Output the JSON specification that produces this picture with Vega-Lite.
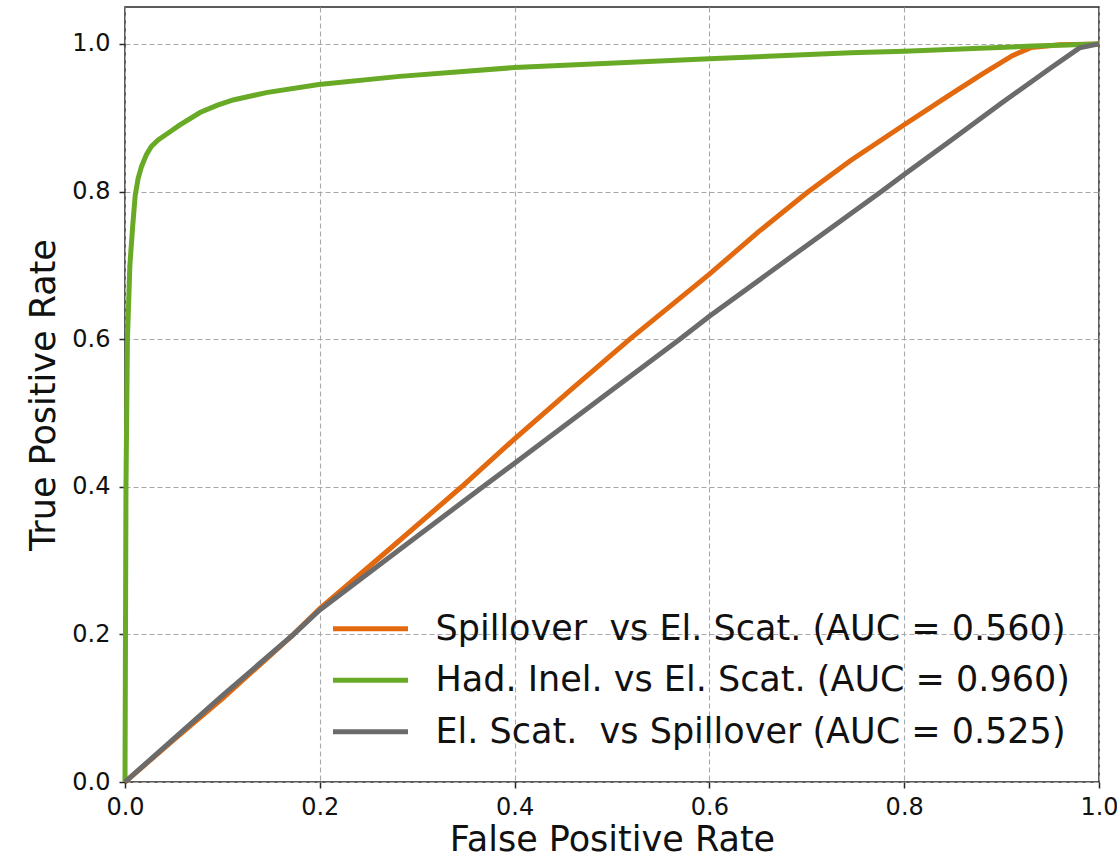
{
  "$schema": "https://vega.github.io/schema/vega-lite/v6.json",
  "width": 974,
  "height": 775,
  "autosize": {"type": "none"},
  "padding": {"left": 125, "top": 7, "right": 18, "bottom": 76},
  "config": {
    "font": "DejaVu Sans",
    "view": {"stroke": "#262626", "strokeWidth": 1.5},
    "axis": {
      "domain": false,
      "grid": true,
      "gridColor": "#a8a8a8",
      "gridDash": [5, 3],
      "gridWidth": 1.1,
      "ticks": true,
      "tickColor": "#262626",
      "tickSize": 6,
      "tickWidth": 1.5,
      "labelFont": "DejaVu Sans",
      "labelFontSize": 24,
      "labelColor": "#111111",
      "labelFlush": false,
      "labelOverlap": false,
      "titleFont": "DejaVu Sans",
      "titleFontSize": 35,
      "titleFontWeight": "normal",
      "titleColor": "#111111"
    }
  },
  "data": {
    "values": [
      {"k": "o", "fpr": 0, "tpr": 0},
      {"k": "o", "fpr": 0.05, "tpr": 0.057},
      {"k": "o", "fpr": 0.1, "tpr": 0.113},
      {"k": "o", "fpr": 0.173, "tpr": 0.2},
      {"k": "o", "fpr": 0.2, "tpr": 0.235},
      {"k": "o", "fpr": 0.272, "tpr": 0.316},
      {"k": "o", "fpr": 0.3456, "tpr": 0.4},
      {"k": "o", "fpr": 0.4, "tpr": 0.465},
      {"k": "o", "fpr": 0.46, "tpr": 0.534},
      {"k": "o", "fpr": 0.5183, "tpr": 0.6},
      {"k": "o", "fpr": 0.6, "tpr": 0.688},
      {"k": "o", "fpr": 0.65, "tpr": 0.745},
      {"k": "o", "fpr": 0.6997, "tpr": 0.798},
      {"k": "o", "fpr": 0.745, "tpr": 0.842},
      {"k": "o", "fpr": 0.8, "tpr": 0.8905},
      {"k": "o", "fpr": 0.8468, "tpr": 0.931},
      {"k": "o", "fpr": 0.88, "tpr": 0.959},
      {"k": "o", "fpr": 0.911, "tpr": 0.984},
      {"k": "o", "fpr": 0.93, "tpr": 0.995},
      {"k": "o", "fpr": 0.96, "tpr": 0.999},
      {"k": "o", "fpr": 1, "tpr": 1},
      {"k": "g", "fpr": 0, "tpr": 0},
      {"k": "g", "fpr": 0.0005, "tpr": 0.2},
      {"k": "g", "fpr": 0.001, "tpr": 0.4},
      {"k": "g", "fpr": 0.0025, "tpr": 0.6},
      {"k": "g", "fpr": 0.005, "tpr": 0.7},
      {"k": "g", "fpr": 0.008, "tpr": 0.755},
      {"k": "g", "fpr": 0.0105, "tpr": 0.795},
      {"k": "g", "fpr": 0.0135, "tpr": 0.818},
      {"k": "g", "fpr": 0.017, "tpr": 0.834},
      {"k": "g", "fpr": 0.022, "tpr": 0.85},
      {"k": "g", "fpr": 0.027, "tpr": 0.861},
      {"k": "g", "fpr": 0.034, "tpr": 0.870},
      {"k": "g", "fpr": 0.044, "tpr": 0.879},
      {"k": "g", "fpr": 0.056, "tpr": 0.89},
      {"k": "g", "fpr": 0.077, "tpr": 0.907},
      {"k": "g", "fpr": 0.095, "tpr": 0.917},
      {"k": "g", "fpr": 0.111, "tpr": 0.924},
      {"k": "g", "fpr": 0.145, "tpr": 0.934},
      {"k": "g", "fpr": 0.199, "tpr": 0.945},
      {"k": "g", "fpr": 0.282, "tpr": 0.956},
      {"k": "g", "fpr": 0.4, "tpr": 0.968},
      {"k": "g", "fpr": 0.6, "tpr": 0.98},
      {"k": "g", "fpr": 0.745, "tpr": 0.988},
      {"k": "g", "fpr": 0.8, "tpr": 0.99},
      {"k": "g", "fpr": 0.932, "tpr": 0.997},
      {"k": "g", "fpr": 1, "tpr": 1},
      {"k": "k", "fpr": 0, "tpr": 0},
      {"k": "k", "fpr": 0.1, "tpr": 0.117},
      {"k": "k", "fpr": 0.173, "tpr": 0.2},
      {"k": "k", "fpr": 0.2, "tpr": 0.233},
      {"k": "k", "fpr": 0.282, "tpr": 0.315},
      {"k": "k", "fpr": 0.3644, "tpr": 0.397},
      {"k": "k", "fpr": 0.4, "tpr": 0.432},
      {"k": "k", "fpr": 0.5, "tpr": 0.531},
      {"k": "k", "fpr": 0.5696, "tpr": 0.6},
      {"k": "k", "fpr": 0.6, "tpr": 0.631},
      {"k": "k", "fpr": 0.7, "tpr": 0.727},
      {"k": "k", "fpr": 0.7766, "tpr": 0.8},
      {"k": "k", "fpr": 0.8, "tpr": 0.823},
      {"k": "k", "fpr": 0.8468, "tpr": 0.868},
      {"k": "k", "fpr": 0.9, "tpr": 0.92},
      {"k": "k", "fpr": 0.95, "tpr": 0.967},
      {"k": "k", "fpr": 0.98, "tpr": 0.9946},
      {"k": "k", "fpr": 1, "tpr": 1}
    ]
  },
  "transform": [
    {"lookup": "k", "from": {"data": {"values": [
      {"k": "o", "s": "Spillover\u00a0 vs El. Scat. (AUC = 0.560)"},
      {"k": "g", "s": "Had. Inel. vs El. Scat. (AUC = 0.960)"},
      {"k": "k", "s": "El. Scat.\u00a0 vs Spillover (AUC = 0.525)"}
    ]}, "key": "k", "fields": ["s"]}}
  ],
  "encoding": {
    "x": {
      "field": "fpr", "type": "quantitative", "title": "False Positive Rate",
      "scale": {"domain": [0, 1], "nice": false, "zero": false},
      "axis": {"values": [0, 0.2, 0.4, 0.6, 0.8, 1.0], "format": ".1f", "labelPadding": 7, "titlePadding": 3}
    },
    "y": {
      "field": "tpr", "type": "quantitative", "title": "True Positive Rate",
      "scale": {"domain": [0, 1.05], "nice": false, "zero": false},
      "axis": {"values": [0, 0.2, 0.4, 0.6, 0.8, 1.0], "format": ".1f", "labelPadding": 9, "titlePadding": 10}
    },
    "color": {
      "field": "s", "type": "nominal",
      "scale": {
        "domain": ["Spillover\u00a0 vs El. Scat. (AUC = 0.560)", "Had. Inel. vs El. Scat. (AUC = 0.960)", "El. Scat.\u00a0 vs Spillover (AUC = 0.525)"],
        "range": ["#e3690f", "#68aa25", "#6b6b6b"]
      },
      "sort": null,
      "legend": {
        "title": null,
        "orient": "none",
        "legendX": 205.5,
        "legendY": 597.7,
        "padding": 0,
        "symbolType": "stroke",
        "symbolSize": 5625,
        "symbolStrokeWidth": 5,
        "labelFontSize": 35,
        "labelFont": "DejaVu Sans",
        "labelColor": "#111111",
        "labelOffset": 25,
        "labelLimit": 1000,
        "clipHeight": 48,
        "rowPadding": 3.5
      }
    }
  },
  "layer": [
    {"transform": [{"filter": "datum.k == 'o'"}], "mark": {"type": "line", "strokeWidth": 5}},
    {"transform": [{"filter": "datum.k == 'g'"}], "mark": {"type": "line", "strokeWidth": 5}},
    {"transform": [{"filter": "datum.k == 'k'"}], "mark": {"type": "line", "strokeWidth": 5}}
  ]
}
